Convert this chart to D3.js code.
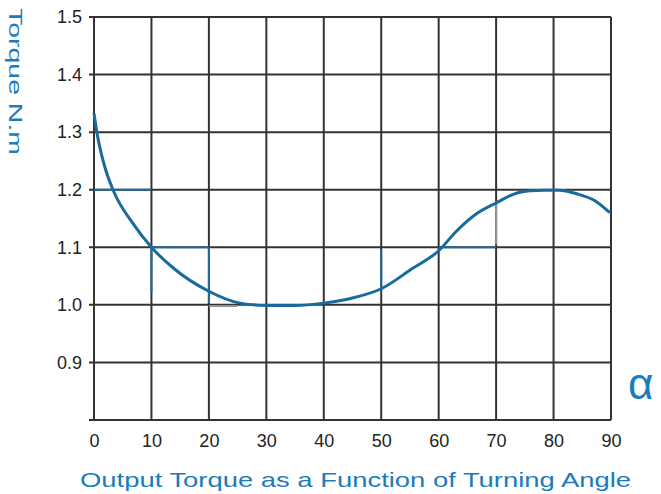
<!DOCTYPE html>
<html><head><meta charset="utf-8">
<script src="https://cdn.jsdelivr.net/npm/d3@7"></script>
<style>html,body{margin:0;padding:0;background:#fff;}svg{display:block;}</style>
</head><body>
<svg id="c" width="661" height="494"></svg>
<script>
// Data
const angles = [0, 0.5, 1.9, 3.3, 6.8, 10, 13.8, 19.9, 25.4, 30, 35, 40, 45, 50, 55.4, 60, 63, 66.7, 70.2, 73, 76, 78.2, 81, 84, 87, 89.8];
const torque = [1.333, 1.30, 1.239, 1.2, 1.141, 1.1, 1.064, 1.024, 1.003, 0.999, 0.999, 1.003, 1.012, 1.028, 1.063, 1.094, 1.127, 1.159, 1.178, 1.192, 1.198, 1.199, 1.199, 1.193, 1.182, 1.16];
const xTicks = [0, 10, 20, 30, 40, 50, 60, 70, 80, 90];
const yTicks = [0.8, 0.9, 1.0, 1.1, 1.2, 1.3, 1.4, 1.5];
const yTickLabels = ["", "0.9", "1.0", "1.1", "1.2", "1.3", "1.4", "1.5"];
// step artifact segments: [x1, y1, x2, y2]
const stepX1 = [0, 10, 10, 20, 20, 50, 60, 70];
const stepY1 = [1.2, 1.1, 1.1, 1.1, 0.998, 1.095, 1.1, 1.18];
const stepX2 = [10, 10, 20, 20, 25, 50, 70, 70];
const stepY2 = [1.2, 1.022, 1.1, 1.003, 0.998, 1.028, 1.1, 1.105];
const stepTone = ["b", "b", "b", "b", "g", "b", "b", "g"];

const svg = d3.select("#c");
const x = d3.scaleLinear().domain([0, 90]).range([94, 611]);
const y = d3.scaleLinear().domain([0.8, 1.5]).range([420, 17]);

// grid
const g = svg.append("g");
g.selectAll(".vx").data(xTicks).join("line")
  .attr("x1", d => x(d)).attr("x2", d => x(d))
  .attr("y1", y(1.5)).attr("y2", y(0.8))
  .attr("stroke", "#333").attr("stroke-width", 2);
g.selectAll(".hy").data(yTicks).join("line")
  .attr("x1", x(0) - 5).attr("x2", x(90))
  .attr("y1", d => y(d)).attr("y2", d => y(d))
  .attr("stroke", "#333").attr("stroke-width", 2);

// axes labels via d3 axes (no domain lines)
const xAxis = d3.axisBottom(x).tickValues(xTicks).tickSize(0).tickPadding(0).tickFormat(d3.format("d"));
const xa = svg.append("g").attr("transform", `translate(0,${y(0.8) + 14})`).call(xAxis);
xa.select(".domain").remove();
xa.selectAll("text").attr("font-family", "Liberation Sans, Arial, sans-serif").attr("font-size", 18).attr("fill", "#222").attr("dy", "0.71em");

const yAxis = d3.axisLeft(y).tickValues(yTicks).tickSize(0).tickPadding(0).tickFormat((d, i) => yTickLabels[i]);
const ya = svg.append("g").attr("transform", `translate(${x(0) - 12},0)`).call(yAxis);
ya.select(".domain").remove();
ya.selectAll("text").attr("font-family", "Liberation Sans, Arial, sans-serif").attr("font-size", 18).attr("fill", "#222");

// step artifacts
svg.append("g").selectAll("line").data(stepX1.map((v, i) => i)).join("line")
  .attr("x1", i => x(stepX1[i])).attr("y1", i => y(stepY1[i]))
  .attr("x2", i => x(stepX2[i])).attr("y2", i => y(stepY2[i]))
  .attr("stroke", i => stepTone[i] === "b" ? "#1f6a98" : "#8a959c")
  .attr("stroke-width", 2);

// curve
const pts = angles.map((a, i) => [a, torque[i]]);
svg.append("path").datum(pts)
  .attr("d", d3.line().x(d => x(d[0])).y(d => y(d[1])).curve(d3.curveMonotoneX))
  .attr("fill", "none").attr("stroke", "#186b9c").attr("stroke-width", 3);

// y label
svg.append("text").attr("transform", "translate(9,8) rotate(90)")
  .attr("font-family", "Liberation Sans, Arial, sans-serif").attr("font-size", 19)
  .attr("fill", "#1a7cbd").attr("text-anchor", "start")
  .attr("textLength", 147).attr("lengthAdjust", "spacingAndGlyphs")
  .text("Torque  N.m");

// alpha
svg.append("text").attr("x", 628).attr("y", 399)
  .attr("font-family", "Liberation Sans, Arial, sans-serif").attr("font-size", 44)
  .attr("fill", "#1a7cbd").text("α");

// title
svg.append("text").attr("x", 80).attr("y", 487)
  .attr("font-family", "Liberation Sans, Arial, sans-serif").attr("font-size", 21)
  .attr("fill", "#1a7cbd").attr("textLength", 551).attr("lengthAdjust", "spacingAndGlyphs")
  .text("Output Torque as a Function of Turning Angle");
</script>
</body></html>
